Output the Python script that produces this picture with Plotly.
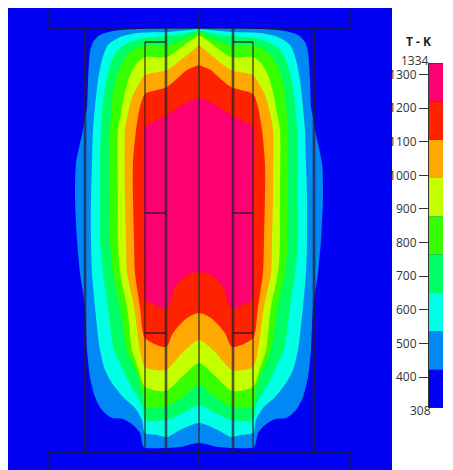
import plotly.graph_objects as go

CENTRE = 199
LEVELS = [308, 422, 536, 650, 764, 878, 992, 1106, 1220, 1334]
COLOURS = ["#0000F2", "#0088F5", "#00FFE4", "#00FF64", "#38FF00", "#C4FF00", "#FFA800", "#FF2200", "#FF0070"]
TICKS = [400, 500, 600, 700, 800, 900, 1000, 1100, 1200, 1300]

# Isotherms, left half, from top of centreline round to bottom of centreline
iso_422_x = [199, 170, 137, 113, 100, 93, 90, 88, 87, 85, 83, 76, 75, 77, 80, 85, 87, 90, 95, 102, 112, 123, 133, 140, 144, 165, 180, 199]
iso_422_y = [28, 28, 29, 31, 35, 42, 52, 80, 107, 117, 130, 163, 197, 240, 273, 307, 350, 377, 397, 410, 418, 419, 425, 433, 447, 448, 447, 443]
iso_536_x = [199, 167, 137, 120, 108, 102, 98, 95, 93, 92, 91, 91, 92, 95, 100, 105, 112, 123, 135, 142, 145, 157, 167, 180, 199]
iso_536_y = [29, 32, 33, 37, 45, 60, 80, 107, 130, 163, 197, 240, 273, 307, 350, 370, 383, 397, 408, 420, 433, 435, 437, 430, 423]
iso_650_x = [199, 187, 168, 145, 130, 118, 112, 107, 103, 101, 100, 100, 100, 103, 108, 114, 120, 128, 135, 142, 145, 157, 167, 183, 199]
iso_650_y = [30, 33, 36, 38, 42, 50, 60, 77, 103, 130, 163, 197, 240, 273, 307, 350, 363, 380, 393, 405, 420, 421, 420, 413, 405]
iso_764_x = [199, 187, 168, 145, 133, 125, 118, 113, 111, 110, 110, 110, 113, 120, 127, 132, 138, 143, 145, 166, 183, 199]
iso_764_y = [32, 38, 45, 45, 50, 58, 72, 92, 117, 130, 197, 240, 273, 307, 350, 363, 377, 395, 407, 407, 397, 385]
iso_878_x = [199, 187, 167, 145, 137, 130, 125, 121, 118, 118, 118, 120, 127, 132, 138, 145, 166, 183, 199]
iso_878_y = [35, 43, 57, 57, 63, 75, 92, 113, 130, 197, 240, 273, 307, 350, 368, 387, 391, 376, 363]
iso_992_x = [199, 187, 167, 145, 140, 133, 128, 125, 125, 126, 127, 134, 140, 145, 166, 183, 199]
iso_992_y = [45, 55, 70, 75, 82, 95, 113, 130, 197, 240, 273, 307, 350, 367, 370, 352, 340]
iso_1106_x = [199, 187, 167, 145, 140, 136, 133, 133, 134, 135, 140, 145, 166, 173, 187, 199]
iso_1106_y = [65, 70, 87, 94, 107, 130, 163, 197, 240, 273, 307, 338, 347, 333, 318, 313]
iso_1220_x = [199, 187, 167, 145, 144, 144, 144, 145, 146, 155, 166, 175, 187, 199]
iso_1220_y = [98, 102, 115, 127, 130, 197, 240, 273, 300, 305, 309, 287, 275, 272]

ISOTHERMS = [
    (iso_422_x, iso_422_y), (iso_536_x, iso_536_y), (iso_650_x, iso_650_y), (iso_764_x, iso_764_y),
    (iso_878_x, iso_878_y), (iso_992_x, iso_992_y), (iso_1106_x, iso_1106_y), (iso_1220_x, iso_1220_y),
]

# Structure outlines
HEAVY_VERTICAL = [(85, 28, 452), (314, 28, 452), (166, 28, 452), (233, 28, 452)]
THIN_VERTICAL = [(145, 42, 447), (253, 42, 447), (199, 8, 470), (48, 8, 28), (350, 8, 28), (48, 452, 470), (350, 452, 470)]
HORIZONTAL = [(48, 350, 28), (48, 350, 452), (145, 166, 42), (233, 253, 42), (145, 166, 213), (233, 253, 213), (145, 166, 333), (233, 253, 333)]

W, H = 453, 470
PAGE_OFFSET = 8  # the page places the figure 8 px in from its top-left corner


def px(v):
    return (v - PAGE_OFFSET) / W


def py(v):
    return 1 - (v - PAGE_OFFSET) / H


fig = go.Figure()

for (xs, ys), colour in zip(ISOTHERMS, COLOURS[1:]):
    full_x = xs + [2 * CENTRE - v for v in reversed(xs)][1:-1]
    full_y = ys + list(reversed(ys))[1:-1]
    fig.add_trace(go.Scatter(x=full_x, y=full_y, mode="lines", fill="toself", fillcolor=colour,
                             line=dict(width=0, color=colour, shape="spline", smoothing=0.7),
                             hoverinfo="skip", showlegend=False))

fig.add_trace(go.Bar(x=[0] * 9, base=LEVELS[:-1], y=[b - a for a, b in zip(LEVELS[:-1], LEVELS[1:])],
                     width=1, marker=dict(color=COLOURS, line=dict(width=0)), xaxis="x2", yaxis="y2", showlegend=False))

shapes = []
for x, y0, y1 in HEAVY_VERTICAL:
    shapes.append(dict(type="line", xref="x", yref="y", x0=x, x1=x, y0=y0, y1=y1, line=dict(color="rgba(40,30,50,0.72)", width=2.6)))
for x, y0, y1 in THIN_VERTICAL:
    shapes.append(dict(type="line", xref="x", yref="y", x0=x, x1=x, y0=y0, y1=y1, line=dict(color="rgba(40,30,40,0.8)", width=1.4)))
for x0, x1, y in HORIZONTAL:
    shapes.append(dict(type="line", xref="x", yref="y", x0=x0, x1=x1, y0=y, y1=y, line=dict(color="rgba(30,25,40,0.85)", width=1.5)))
for v in (LEVELS[0], LEVELS[-1]):
    shapes.append(dict(type="line", xref="x2", yref="y2", x0=-1.35, x1=0.5, y0=v, y1=v, line=dict(color="#333333", width=1.2)))

fig.update_layout(
    width=W, height=H, autosize=False, margin=dict(l=0, r=0, t=0, b=0),
    paper_bgcolor="white", plot_bgcolor=COLOURS[0], barmode="overlay", shapes=shapes,
    font=dict(family="Open Sans, sans-serif", size=12, color="#333333"),
    xaxis=dict(domain=[px(8), px(392)], range=[8, 392], visible=False, fixedrange=True),
    yaxis=dict(domain=[py(470), py(8)], range=[470, 8], visible=False, fixedrange=True),
    xaxis2=dict(domain=[px(429), px(443)], range=[-0.5, 0.5], anchor="y2", visible=False, fixedrange=True),
    yaxis2=dict(domain=[py(408), py(63)], range=[308, 1334], anchor="x2", side="left",
                tickmode="array", tickvals=TICKS, ticks="outside", ticklen=9, tickwidth=1.2, tickcolor="#333333",
                showgrid=False, zeroline=False, showline=True, linecolor="#333333", linewidth=1.2,
                tickfont=dict(size=12, color="#333333"), fixedrange=True),
    annotations=[
        dict(text="<b>T - K</b>", xref="paper", yref="paper", x=px(433), y=py(31), showarrow=False, font=dict(size=12, color="#222222")),
        dict(text="1334", xref="paper", yref="paper", x=px(431), y=py(50), showarrow=False, font=dict(size=12, color="#333333")),
        dict(text="308", xref="paper", yref="paper", x=px(433), y=py(421), showarrow=False, font=dict(size=12, color="#333333")),
    ],
)
fig.write_html("out.html", config=dict(displayModeBar=False))
